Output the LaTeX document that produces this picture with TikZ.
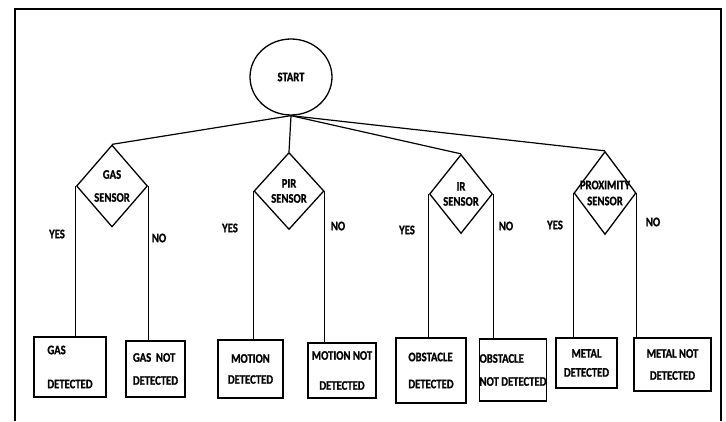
\documentclass[tikz,border=0pt]{standalone}
\usepackage{fontspec}
\setmainfont{Carlito}[FakeStretch=0.82, BoldFeatures={FakeBold=1}]
\usetikzlibrary{shapes.geometric,positioning}

\begin{document}
\begin{tikzpicture}[x=1pt,y=-1pt]
		\tikzstyle{sensor}=[diamond, draw=black, line width=1.3pt, inner sep=0pt]
		\tikzstyle{result}=[rectangle, draw=black, line width=1.5pt, inner sep=0pt, font=\fontsize{13}{15}\selectfont\bfseries]
		\tikzstyle{answer}=[font=\fontsize{13}{15}\selectfont\bfseries]
		\tikzstyle{wire}=[line width=1.2pt]
		
		\useasboundingbox (0,0) rectangle (726,421);
		
		% Frame
		\draw[line width=2.5pt] (15,421) -- (15,9) -- (721,9) -- (721,421);
		
		% Start
		\node[ellipse, draw=black, line width=1.3pt, minimum width=82, minimum height=76, answer] (start) at (291,77) {START};
		
		% Sensors
		\foreach \name/\x/\y/\w/\h/\gap/\txt in {gas/112/186/71/82/8/GAS, pir/289/191/70/77/0/PIR, ir/461/194/63/79/0/IR, prox/605/193/62/83/1/PROXIMITY}
		\node[sensor, minimum width=\w, minimum height=\h, label={[answer, align=center]center:{\txt\\[\gap pt]SENSOR}}] (\name) at (\x,\y) {};
		
		% Start -> Sensors
		\foreach \name in {gas, pir, ir, prox}
		\draw[wire] (start.south) -- (\name.north);
		
		% Results
		\foreach \name/\x/\y/\w/\h/\al/\txt in {
			gasyes/70/367/72/60/left/GAS\\[19pt]DETECTED,
			gasno/155.5/369/59/56/left/GAS~~NOT\\[8pt]DETECTED,
			motionyes/250.5/369/65/58/center/MOTION\\[6pt]DETECTED,
			motionno/342/370.5/68/55/center/MOTION NOT\\[15pt]DETECTED,
			obstacleyes/431/370.5/70/65/left/OBSTACLE\\[12pt]DETECTED,
			obstacleno/513/370/66/62/left/OBSTACLE\\[8pt]NOT DETECTED,
			metalyes/586.5/363/61/50/center/METAL\\[4pt]DETECTED,
			metalno/672.5/364.5/77/53/center/METAL NOT\\[7pt]DETECTED}
		\node[result, minimum width=\w, minimum height=\h, align=\al] (\name) at (\x,\y) {\txt};
		
		% Sensors -> Results
		\foreach \s/\yes/\no in {gas/gasyes/gasno, pir/motionyes/motionno, ir/obstacleyes/obstacleno, prox/metalyes/metalno}
		{
			\draw[wire] (\s.west) -- (\s.west |- \yes.north);
			\draw[wire] (\s.east) -- (\s.east |- \no.north);
		}
		
		% Yes / No
		\foreach \x/\y/\txt [count=\i] in {57/234/YES, 159/238/NO, 230/228/YES, 338/226/NO, 407/230/YES, 506/226/NO, 555/225/YES, 653/222/NO}
		\node[answer] (choice\i) at (\x,\y) {\txt};
		
\end{tikzpicture}
\end{document}
